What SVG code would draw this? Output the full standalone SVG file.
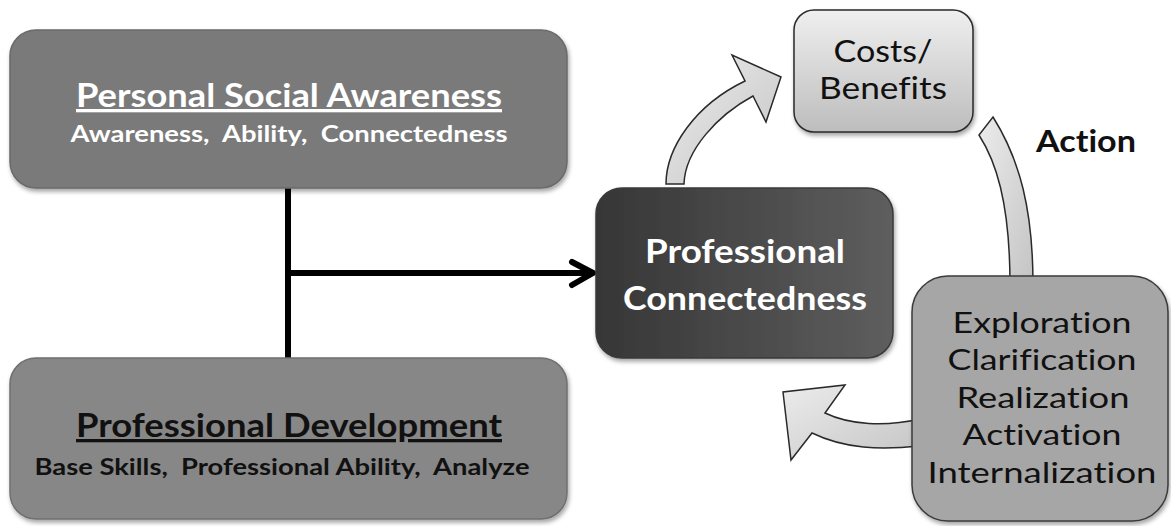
<svg xmlns="http://www.w3.org/2000/svg" width="1171" height="526" viewBox="0 0 1171 526">
<style>
  .t { font-family: Lato, "Open Sans", "Liberation Sans", sans-serif; text-anchor: middle; font-variant-ligatures: none; }
  .b { font-weight: bold; }
  .w { fill: #ffffff; }
  .k { fill: #111111; }
  .u { text-decoration: underline; }
  .curve { fill: url(#arrowGrad); stroke: #2a2a2a; stroke-width: 1.5; stroke-linejoin: miter; }
  .conn { stroke: #000; stroke-width: 6; fill: none; stroke-linecap: round; stroke-linejoin: round; }
</style>
<defs>
  <filter id="sh" x="-10%" y="-10%" width="120%" height="125%">
    <feDropShadow dx="1.5" dy="3" stdDeviation="2" flood-color="#000" flood-opacity="0.35"/>
  </filter>
  <linearGradient id="darkGrad" x1="0" y1="0" x2="1" y2="0">
    <stop offset="0" stop-color="#363636"/>
    <stop offset="1" stop-color="#5e5e5e"/>
  </linearGradient>
  <linearGradient id="lightGrad" x1="0" y1="0" x2="0" y2="1">
    <stop offset="0" stop-color="#efefef"/>
    <stop offset="1" stop-color="#bdbdbd"/>
  </linearGradient>
  <linearGradient id="arrowGrad" x1="0" y1="0" x2="1" y2="1">
    <stop offset="0" stop-color="#ececec"/>
    <stop offset="1" stop-color="#c4c4c4"/>
  </linearGradient>
</defs>

<g id="connectors">
  <line class="conn" x1="288" y1="188" x2="288" y2="358"/>
  <line class="conn" x1="288" y1="273" x2="590" y2="273"/>
  <polyline class="conn" points="572,262 593,273 572,285"/>
  <path id="arrow-to-costs" class="curve" d="M666,184 C666,148 695,105 745,81 L732,55 L781,77 L766,122 L753,96 C718,115 685,150 684,184 Z"/>
  <path id="arrow-action" class="curve" d="M979,135 C995,160 1010,200 1010,285 L1033,285 C1033,210 1020,160 993,117 Z"/>
  <path id="arrow-back" class="curve" d="M920,419 C885,427 850,425 825,413 L845,385 L783,392 L791,460 L812,433 C845,449 880,450 920,446 Z"/>
</g>

<g id="node-personal-social-awareness">
  <rect x="10" y="30" width="557" height="158" rx="26" fill="#7a7a7a" stroke="#6a6a6a" stroke-width="1.5" filter="url(#sh)"/>
  <text class="t b w u" x="289" y="107" font-size="33" textLength="426" lengthAdjust="spacingAndGlyphs">Personal Social Awareness</text>
  <text class="t b w" x="289" y="142" font-size="22" textLength="437" lengthAdjust="spacingAndGlyphs" xml:space="preserve">Awareness,  Ability,  Connectedness</text>
</g>

<g id="node-professional-development">
  <rect x="10" y="358" width="557" height="161" rx="26" fill="#878787" stroke="#707070" stroke-width="1.5" filter="url(#sh)"/>
  <text class="t b k u" x="289" y="437" font-size="33" textLength="426" lengthAdjust="spacingAndGlyphs">Professional Development</text>
  <text class="t b k" x="282" y="475" font-size="22" textLength="495" lengthAdjust="spacingAndGlyphs" xml:space="preserve">Base Skills,  Professional Ability,  Analyze</text>
</g>

<g id="node-professional-connectedness">
  <rect x="596" y="188" width="297" height="170" rx="26" fill="url(#darkGrad)" stroke="#3a3a3a" stroke-width="1.5" filter="url(#sh)"/>
  <text class="t b w" x="745" y="263" font-size="32" textLength="200" lengthAdjust="spacingAndGlyphs">Professional</text>
  <text class="t b w" x="745" y="310" font-size="32" textLength="244" lengthAdjust="spacingAndGlyphs">Connectedness</text>
</g>

<g id="node-costs-benefits">
  <rect x="794" y="10" width="179" height="122" rx="20" fill="url(#lightGrad)" stroke="#2a2a2a" stroke-width="1.5" filter="url(#sh)"/>
  <text class="t k" x="883" y="62" font-size="30" textLength="99" lengthAdjust="spacingAndGlyphs">Costs/</text>
  <text class="t k" x="883" y="99" font-size="30" textLength="128" lengthAdjust="spacingAndGlyphs">Benefits</text>
</g>

<g id="label-action">
  <text class="t b k" x="1086" y="152" font-size="31" textLength="100" lengthAdjust="spacingAndGlyphs">Action</text>
</g>

<g id="node-stages">
  <rect x="912" y="276" width="256" height="245" rx="36" fill="#a6a6a6" stroke="#3a3a3a" stroke-width="1.5" filter="url(#sh)"/>
  <text class="t k" x="1042" y="333" font-size="28" textLength="179" lengthAdjust="spacingAndGlyphs">Exploration</text>
  <text class="t k" x="1042" y="370" font-size="28" textLength="189" lengthAdjust="spacingAndGlyphs">Clarification</text>
  <text class="t k" x="1043" y="408" font-size="28" textLength="173" lengthAdjust="spacingAndGlyphs">Realization</text>
  <text class="t k" x="1042" y="445" font-size="28" textLength="159" lengthAdjust="spacingAndGlyphs">Activation</text>
  <text class="t k" x="1042" y="483" font-size="28" textLength="229" lengthAdjust="spacingAndGlyphs">Internalization</text>
</g>
</svg>
